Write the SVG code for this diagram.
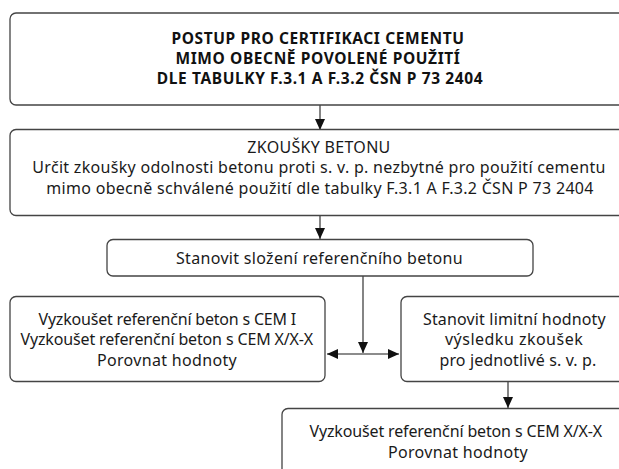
<svg xmlns="http://www.w3.org/2000/svg" width="619" height="469" viewBox="0 0 619 469">
  <defs>
    <style>
      .box { fill: #ffffff; stroke: #444444; stroke-width: 1.3; }
      .conn { stroke: #666666; stroke-width: 1.6; fill: none; }
      .t { font-family: "Noto Sans", sans-serif; font-size: 16px; letter-spacing: 0.3px; fill: #1a1a1a; text-anchor: middle; }
      .tb { font-family: "Noto Sans", sans-serif; font-size: 15.5px; letter-spacing: 0.6px; font-weight: bold; fill: #111111; text-anchor: middle; }
    </style>
    <marker id="ah" markerUnits="userSpaceOnUse" markerWidth="12" markerHeight="10" refX="11" refY="5" orient="auto-start-reverse">
      <path d="M0,0 L11,5 L0,10 z" fill="#111111"/>
    </marker>
  </defs>
  <rect width="619" height="469" fill="#ffffff"/>

  <g id="connectors">
    <line class="conn" x1="320" y1="105" x2="320" y2="130" marker-end="url(#ah)"/>
    <line class="conn" x1="320" y1="215.5" x2="320" y2="239" marker-end="url(#ah)"/>
    <line class="conn" x1="363" y1="276" x2="363" y2="353" marker-end="url(#ah)"/>
    <line class="conn" x1="327" y1="354" x2="399" y2="354" marker-start="url(#ah)" marker-end="url(#ah)"/>
    <line class="conn" x1="508" y1="382" x2="508" y2="408" marker-end="url(#ah)"/>
  </g>

  <g id="n-postup">
    <rect class="box" x="10" y="13" width="625" height="92" rx="6"/>
    <text class="tb" x="318" y="43.5">POSTUP PRO CERTIFIKACI CEMENTU</text>
    <text class="tb" x="318" y="63.5">MIMO OBECNĚ POVOLENÉ POUŽITÍ</text>
    <text class="tb" x="320" y="83.5">DLE TABULKY F.3.1 A F.3.2 ČSN P 73 2404</text>
  </g>

  <g id="n-zkousky">
    <rect class="box" x="10" y="129.5" width="625" height="86" rx="6"/>
    <text class="t" x="319" y="152.5">ZKOUŠKY BETONU</text>
    <text class="t" x="319" y="173">Určit zkoušky odolnosti betonu proti s. v. p. nezbytné pro použití cementu</text>
    <text class="t" x="320" y="193.5">mimo obecně schválené použití dle tabulky F.3.1 A F.3.2 ČSN P 73 2404</text>
  </g>

  <g id="n-slozeni">
    <rect class="box" x="107" y="239.5" width="426" height="36.5" rx="6"/>
    <text class="t" x="319.5" y="263.5" textLength="287" lengthAdjust="spacing">Stanovit složení referenčního betonu</text>
  </g>

  <g id="n-vyzkouset">
    <rect class="box" x="10" y="296.5" width="315" height="85" rx="6"/>
    <text class="t" x="167.5" y="324.5" textLength="258" lengthAdjust="spacing">Vyzkoušet referenční beton s CEM I</text>
    <text class="t" x="167" y="345" textLength="293" lengthAdjust="spacing">Vyzkoušet referenční beton s CEM X/X-X</text>
    <text class="t" x="167" y="365.5" textLength="140" lengthAdjust="spacing">Porovnat hodnoty</text>
  </g>

  <g id="n-limity">
    <rect class="box" x="401" y="296.5" width="230" height="85" rx="6"/>
    <text class="t" x="514.5" y="324.5" textLength="183" lengthAdjust="spacing">Stanovit limitní hodnoty</text>
    <text class="t" x="514" y="345" textLength="138" lengthAdjust="spacing">výsledku zkoušek</text>
    <text class="t" x="518" y="365.5" textLength="157" lengthAdjust="spacing">pro jednotlivé s. v. p.</text>
  </g>

  <g id="n-porovnat">
    <rect class="box" x="282" y="408.5" width="350" height="80" rx="6"/>
    <text class="t" x="456" y="437" textLength="293" lengthAdjust="spacing">Vyzkoušet referenční beton s CEM X/X-X</text>
    <text class="t" x="458" y="457.5" textLength="140" lengthAdjust="spacing">Porovnat hodnoty</text>
  </g>
</svg>
